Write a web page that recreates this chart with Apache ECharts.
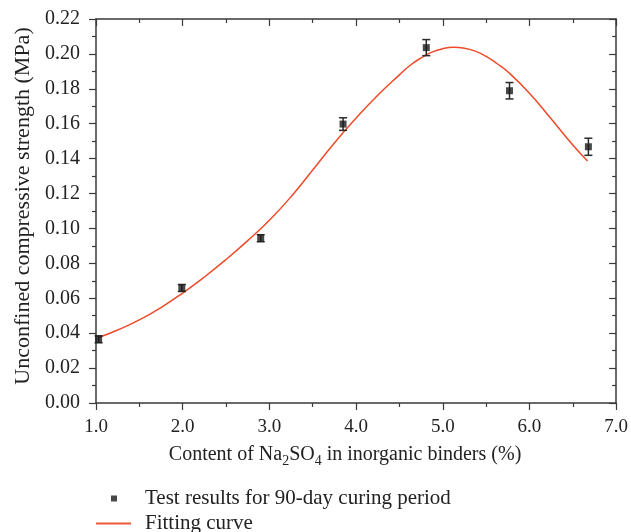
<!DOCTYPE html>
<html>
<head>
<meta charset="utf-8">
<script src="https://cdn.jsdelivr.net/npm/echarts@6/dist/echarts.min.js"></script>
<style>
  html, body { margin: 0; padding: 0; background: #fff; }
  #chart { width: 631px; height: 532px; }
</style>
</head>
<body>
<div id="chart"></div>
<script>
// measured points (Na2SO4 content %, UCS MPa) and error half-widths
var contentX = [1.03, 1.99, 2.90, 3.85, 4.81, 5.77, 6.68]
var strengthY = [0.0365, 0.0659, 0.0944, 0.1598, 0.2036, 0.1789, 0.1468]
var errorY = [0.0020, 0.0020, 0.0020, 0.0036, 0.0046, 0.0047, 0.0049]

// fitting curve
var fitX = [1.03, 1.25, 1.5, 1.75, 2.0, 2.25, 2.5, 2.75, 3.0, 3.25, 3.5, 3.75, 4.0, 4.25, 4.5, 4.625, 4.75, 4.875, 5.0, 5.125, 5.25, 5.375, 5.5, 5.625, 5.75, 6.0, 6.25, 6.5, 6.67]
var fitY = [0.0375, 0.0418, 0.0476, 0.0547, 0.0630, 0.0722, 0.0822, 0.0930, 0.1047, 0.1182, 0.1335, 0.1490, 0.1632, 0.1763, 0.1880, 0.1935, 0.1977, 0.2010, 0.2030, 0.2038, 0.2033, 0.2016, 0.1986, 0.1945, 0.1898, 0.1775, 0.1628, 0.1478, 0.1386]

var font = 'Liberation Serif'
var axisColor = '#3a3a3a'
var textColor = '#222'

var scatterData = contentX.map(function (x, i) { return [x, strengthY[i]] })
var errData = contentX.map(function (x, i) { return [x, strengthY[i] - errorY[i], strengthY[i] + errorY[i]] })
var fitData = fitX.map(function (x, i) { return [x, fitY[i]] })

var chart = echarts.init(document.getElementById('chart'))

function baseX (pos) {
  return {
    type: 'value', position: pos, min: 1, max: 7, interval: 1,
    axisLine: { show: true, onZero: false, lineStyle: { color: axisColor, width: 1.5 } },
    axisTick: { show: true, inside: pos === 'top', length: 7, lineStyle: { color: axisColor, width: 1.2 } },
    minorTick: { show: true, splitNumber: 2, length: 4, lineStyle: { color: axisColor, width: 1.2 } },
    splitLine: { show: false },
    axisLabel: { show: pos === 'bottom', margin: 15, color: textColor, fontFamily: font, fontSize: 19,
      formatter: function (v) { return v.toFixed(1) } }
  }
}
function baseY (pos) {
  return {
    type: 'value', position: pos, min: 0, max: 0.22, interval: 0.02,
    axisLine: { show: true, onZero: false, lineStyle: { color: axisColor, width: 1.5 } },
    axisTick: { show: true, inside: pos === 'right', length: 7, lineStyle: { color: axisColor, width: 1.2 } },
    minorTick: { show: true, splitNumber: 2, length: 4, lineStyle: { color: axisColor, width: 1.2 } },
    splitLine: { show: false },
    axisLabel: { show: pos === 'left', margin: 16, color: textColor, fontFamily: font, fontSize: 20,
      formatter: function (v) { return v.toFixed(2) } }
  }
}

var xBottom = baseX('bottom')
xBottom.name = 'Content of Na{sub|2}SO{sub|4} in inorganic binders (%)'
xBottom.nameLocation = 'middle'
xBottom.nameGap = 39
xBottom.nameTextStyle = {
  color: textColor, fontFamily: font, fontSize: 20, lineHeight: 26, padding: [0, 22, 0, 0],
  rich: { sub: { fontFamily: font, fontSize: 14, lineHeight: 14, color: textColor, verticalAlign: 'bottom' } }
}
var yLeft = baseY('left')
yLeft.name = 'Unconfined compressive strength (MPa)'
yLeft.nameLocation = 'middle'
yLeft.nameGap = 60
yLeft.nameTextStyle = { color: textColor, fontFamily: font, fontSize: 22, padding: [0, 0, 0, 10] }

chart.setOption({
  animation: false,
  backgroundColor: '#fff',
  grid: { left: 96, right: 14, top: 19, bottom: 129, containLabel: false },
  xAxis: [xBottom, baseX('top')],
  yAxis: [yLeft, baseY('right')],
  legend: [
    {
      orient: 'vertical', left: 111, top: 488, padding: 0, itemWidth: 6, itemHeight: 6,
      data: [{ name: 'Test results for 90-day curing period', icon: 'rect' }],
      textStyle: { fontFamily: font, fontSize: 21, color: textColor, padding: [0, 0, 0, 23] }
    },
    {
      orient: 'vertical', left: 96, top: 513, padding: 0, itemWidth: 35, itemHeight: 2,
      data: [{ name: 'Fitting curve', icon: 'path://M0,0L35,0L35,2L0,2Z' }],
      textStyle: { fontFamily: font, fontSize: 21, color: textColor, padding: [0, 0, 0, 9] }
    }
  ],
  series: [
    {
      name: 'Fitting curve', type: 'line', data: fitData, smooth: true,
      symbol: 'none', lineStyle: { color: '#ee4a2a', width: 1.5 }, itemStyle: { color: '#ee5a3e' }, z: 2
    },
    {
      name: 'errbars', type: 'custom', data: errData, z: 3,
      renderItem: function (params, api) {
        var lo = api.coord([api.value(0), api.value(1)])
        var hi = api.coord([api.value(0), api.value(2)])
        var w = 4
        var style = { stroke: '#2a2a2a', lineWidth: 1.5 }
        return {
          type: 'group',
          children: [
            { type: 'line', shape: { x1: lo[0], y1: lo[1], x2: hi[0], y2: hi[1] }, style: style },
            { type: 'line', shape: { x1: lo[0] - w, y1: lo[1], x2: lo[0] + w, y2: lo[1] }, style: style },
            { type: 'line', shape: { x1: hi[0] - w, y1: hi[1], x2: hi[0] + w, y2: hi[1] }, style: style }
          ]
        }
      }
    },
    {
      name: 'Test results for 90-day curing period', type: 'scatter', data: scatterData,
      symbol: 'rect', symbolSize: 7, itemStyle: { color: '#1a1a1a' }, z: 4
    }
  ]
})
</script>
</body>
</html>
